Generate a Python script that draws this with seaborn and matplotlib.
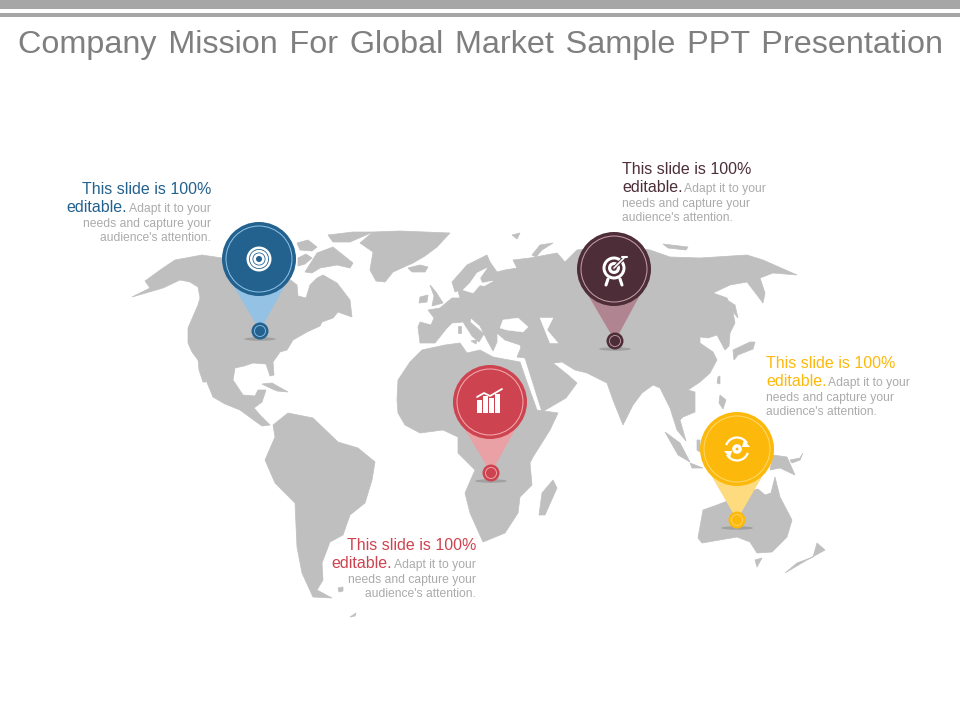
import pandas as pd
import seaborn as sns
import matplotlib.pyplot as plt
from matplotlib.patches import Circle, Ellipse, Polygon, Arc, Rectangle

# the slide title is justified, a hair space widens each gap
TITLE = "Company \u200aMission \u200aFor \u200aGlobal \u200aMarket \u200aSample \u200aPPT \u200aPresentation"

# map outlines in pixels
NORTH_AMERICA = [(132,297),(150,288),(145,281),(163,268),(175,260),(202,255),(222,258),(240,262),(262,268),(280,272),
    (297,285),(298,296),(306,298),(310,285),(317,278),(323,275),(337,283),(350,300),(352,317),(338,312),(333,318),
    (322,322),(320,326),(307,332),(293,340),(287,350),(280,352),(273,362),(274,375),(270,376),(266,364),(253,363),
    (244,366),(235,368),(233,380),(243,395),(255,396),(258,390),(266,390),(262,402),(254,408),(260,415),(270,425),
    (262,426),(255,421),(240,410),(225,404),(213,397),(208,385),(198,360),(192,352),(188,343),(188,328),(198,305),
    (200,298),(198,287),(190,282),(180,280),(163,288)]
BAJA = [(198,358),(202,362),(206,382),(203,382),(199,370)]
CUBA = [(262,384),(272,383),(288,392),(277,391),(268,387)]
GREENLAND = [(373,232),(400,231),(450,233),(437,247),(425,256),(413,263),(393,272),(385,282),(376,281),
    (370,270),(373,252),(360,243)]
ICELAND = [(408,268),(420,265),(428,267),(425,272),(412,272)]
BAFFIN = [(305,272),(317,253),(333,247),(353,263),(350,268),(337,265),(320,268),(312,273)]
ARCTIC_1 = [(297,243),(308,240),(317,247),(312,251),(300,250)]
ARCTIC_2 = [(328,235),(353,232),(373,232),(350,242),(333,242)]
ARCTIC_3 = [(298,258),(306,254),(312,258),(305,264),(298,266)]
EURASIA = [(418,327),(420,343),(435,343),(447,328),(452,323),(463,322),(472,336),(479,342),(482,337),(484,334),(470,322),
    (471,318),(480,326),(487,340),(493,351),(497,342),(497,333),(508,334),(520,332),(530,334),(540,345),(534,352),
    (522,345),(517,357),(525,358),(542,412),(566,398),
    (577,383),(568,375),(553,363),(562,362),(575,370),(587,373),(607,383),(613,400),(623,425),(633,405),(642,393),
    (653,385),(660,388),(670,408),(677,430),(686,441),(680,420),(683,417),(695,412),(695,392),(688,390),(700,382),
    (710,373),(717,360),(713,352),(700,343),(700,337),(708,338),(717,335),(725,350),(729,346),(730,333),(735,323),
    (733,312),(727,298),(713,293),(730,285),(747,282),(757,295),(763,303),(765,293),(760,278),(773,273),(797,275),
    (763,260),(747,255),(700,258),(670,257),(650,250),(620,245),(577,250),(565,262),(557,253),(530,258),(513,260),(517,268),
    (505,270),(497,272),(490,262),(487,255),(467,265),(452,282),(455,292),(462,289),(458,291),(460,298),(452,298),
    (440,308),(428,310),(434,318),(431,325),(420,322)]
CENTRAL_ASIA = [(497,333),(508,318),(540,312),(565,330),(570,360),(553,363),(525,358),(520,345),(505,340)]
AFRICA = [(397,400),(398,380),(410,362),(422,350),(445,345),(460,343),(467,353),(480,350),(493,357),(520,362),
    (528,385),(537,410),(558,413),(550,430),(533,457),(530,463),(532,485),(520,497),(518,513),(505,533),(483,542),
    (470,513),(465,493),(475,470),(458,453),(458,437),(443,430),(420,433),(405,425),(398,413)]
MADAGASCAR = [(553,480),(557,488),(545,515),(539,515),(542,493)]
SOUTH_AMERICA = [(288,413),(313,418),(338,442),(358,448),(375,462),(372,480),(365,503),(350,515),(343,535),(330,542),
    (322,563),(323,580),(317,590),(332,598),(313,597),(302,573),(297,547),(295,503),(275,483),(265,460),(275,437),(273,425)]
FALKLANDS = [(338,588),(343,587),(343,591),(339,592)]
SOUTH_ISLE = [(350,617),(356,613),(355,616)]
AUSTRALIA = [(775,477),(780,497),(792,520),(787,537),(772,552),(757,553),(750,542),(737,537),(702,543),(698,538),
    (703,510),(717,505),(730,500),(743,497),(750,491),(758,489),(765,495),(771,493)]
TASMANIA = [(755,560),(762,558),(757,567)]
NEW_ZEALAND = [(785,573),(807,560),(825,550),(817,543),(813,557),(797,563)]
NEW_GUINEA = [(773,455),(787,457),(795,475),(780,468),(770,470)]
NEW_BRITAIN = [(790,460),(800,458),(803,453),(800,460),(792,463)]
SUMATRA = [(665,432),(680,443),(690,462),(678,455)]
JAVA = [(690,463),(703,468),(692,468)]
SULAWESI = [(697,440),(700,440),(700,452),(697,450)]
PHILIPPINES = [(720,395),(726,400),(723,409),(719,403)]
TAIWAN = [(718,377),(720,376),(720,384),(717,383)]
JAPAN = [(733,350),(750,342),(755,342),(753,349),(738,355),(734,360)]
SAKHALIN = [(727,300),(735,305),(738,318),(733,312)]
BRITAIN = [(430,285),(436,292),(443,303),(432,306),(434,296)]
IRELAND = [(420,297),(428,295),(427,302),(419,303)]
SARDINIA = [(458,326),(461,326),(461,333),(458,333)]
SICILY = [(471,341),(477,340),(476,344)]
SVALBARD = [(512,235),(520,233),(517,239)]
NOVAYA_ZEMLYA = [(532,255),(540,245),(553,243),(542,250),(536,257)]
SIBERIA_ISLE = [(663,244),(688,247),(686,250),(668,248)]
LAND = [NORTH_AMERICA, BAJA, CUBA, GREENLAND, ICELAND, BAFFIN, ARCTIC_1, ARCTIC_2, ARCTIC_3, EURASIA, CENTRAL_ASIA,
    AFRICA, MADAGASCAR, SOUTH_AMERICA, FALKLANDS, SOUTH_ISLE, AUSTRALIA, TASMANIA, NEW_ZEALAND, NEW_GUINEA, NEW_BRITAIN,
    SUMATRA, JAVA, SULAWESI, PHILIPPINES, TAIWAN, JAPAN, SAKHALIN, BRITAIN, IRELAND, SARDINIA, SICILY, SVALBARD,
    NOVAYA_ZEMLYA, SIBERIA_ISLE]

# inland water cut out of the land
BALTIC = [(487,268),(480,278),(482,283),(493,281),(484,286),(480,285),(473,293),(463,290),(470,283),(477,273)]
BLACK_SEA = [(500,328),(503,320),(518,318),(528,327),(523,332),(507,330)]
CASPIAN = [(540,318),(553,318),(547,330),(558,343),(550,343),(546,333)]
WATER = [BALTIC, BLACK_SEA, CASPIAN]

# pins
PIN_NAMES = ["blue", "maroon", "red", "yellow"]
HEAD_X = [259, 614, 490, 737]
HEAD_Y = [259, 269, 402, 449]
TIP_X = [260, 615, 491, 737]
TIP_Y = [331, 341, 473, 520]
PIN_COLORS = ["#23618F", "#4D2E38", "#CE4350", "#FDB90B"]
CONE_COLORS = ["#93C2E4", "#B08591", "#E9A1A6", "#FEDB7F"]
RING_COLORS = ["#8FC4E8", "#C9A0AA", "#F4B0B5", "#FDD96F"]

# callouts
BLOCK_LEFT = [66, 622, 331, 766]
BLOCK_RIGHT = [211, None, 476, None]
BLOCK_TOP = [188, 168, 544, 362]
HEAD_TEXT = "This slide is 100%"
EDIT_TEXT = "editable."
BODY_LINES = ["Adapt it to your", "needs and capture your", "audience's attention."]
TEXT_GRAY = "#ABABAB"

sns.set_theme(style="white")
plt.rcParams["font.family"] = ["Liberation Sans", "DejaVu Sans"]

fig, ax = plt.subplots(figsize=(9.6, 7.2), dpi=100)
ax.set_position([0, 0, 1, 1])
ax.set_xlim(0, 960)
ax.set_ylim(720, 0)
ax.set_axis_off()

# header bands
ax.add_patch(Rectangle((0, 0), 960, 9, color="#A6A6A6", lw=0))
ax.add_patch(Rectangle((0, 13), 960, 4, color="#A6A6A6", lw=0))
ax.text(480, 45, TITLE, ha="center", va="center", fontsize=23.3, color="#7F7F7F")

for shape in LAND:
    ax.add_patch(Polygon(shape, closed=True, facecolor="#BFBFBF", edgecolor="#BFBFBF", lw=0.5, zorder=1))
for shape in WATER:
    ax.add_patch(Polygon(shape, closed=True, facecolor="white", edgecolor="white", lw=0.3, zorder=1.5))


def draw_icon(name, x, y, col):
    # small white glyph inside a pin head
    w = "white"
    if name == "blue":
        for r, c in [(12.5, w), (10, col), (9.2, w), (6.5, col), (5.7, w), (3, col)]:
            ax.add_patch(Circle((x, y), r, color=c, lw=0, zorder=6))
    elif name == "maroon":
        y = y - 1
        for r, c in [(11.5, w), (8.5, col), (6, w), (2.8, col), (1.4, w)]:
            ax.add_patch(Circle((x, y), r, color=c, lw=0, zorder=6))
        ax.plot([x, x + 11], [y, y - 11], color=col, lw=2.5, zorder=7)
        ax.plot([x, x + 10], [y, y - 10], color=w, lw=1.2, zorder=7)
        ax.plot([x + 8, x + 13], [y - 11, y - 11], color=w, lw=1.5, zorder=7)
        ax.plot([x - 6, x - 8], [y + 11, y + 17], color=w, lw=2.2, zorder=7)
        ax.plot([x + 6, x + 8], [y + 11, y + 17], color=w, lw=2.2, zorder=7)
    elif name == "red":
        for dx, top in [(-13, -2), (-7, -6), (-1, -4), (5, -8)]:
            ax.add_patch(Rectangle((x + dx, y + top), 5, 11 - top, color=w, lw=0, zorder=6))
        ax.plot([x - 13, x - 6, x, x + 12], [y - 5, y - 9, y - 6, y - 13], color=w, lw=1.3, zorder=7)
    else:
        ax.add_patch(Arc((x, y), 23, 23, theta1=200, theta2=330, color=w, lw=1.6, zorder=6))
        ax.add_patch(Arc((x, y), 23, 23, theta1=20, theta2=150, color=w, lw=1.6, zorder=6))
        ax.add_patch(Polygon([(x + 7, y - 9), (x + 13, y - 2), (x + 5, y - 2)], color=w, lw=0, zorder=6))
        ax.add_patch(Polygon([(x - 7, y + 9), (x - 13, y + 2), (x - 5, y + 2)], color=w, lw=0, zorder=6))
        ax.add_patch(Circle((x, y), 4.8, color=w, lw=0, zorder=6))
        ax.add_patch(Circle((x, y), 1.4, color=col, lw=0, zorder=7))


pins = pd.DataFrame({"name": PIN_NAMES, "x": HEAD_X, "y": HEAD_Y, "tx": TIP_X, "ty": TIP_Y})
palette = dict(zip(PIN_NAMES, PIN_COLORS))

for i, row in pins.iterrows():
    # cone from head to tip, and the soft shadow below the tip
    ax.add_patch(Polygon([(row.x - 26, row.y + 26), (row.x + 26, row.y + 26), (row.tx, row.ty)],
                         color=CONE_COLORS[i], lw=0, zorder=3))
    ax.add_patch(Ellipse((row.tx, row.ty + 8), 32, 3.5, color="#8C8C8C", alpha=0.6, lw=0, zorder=2.5))

# 74 px across for a head, 16 px for a tip; 1 px is 0.72 pt here
sns.scatterplot(data=pins, x="x", y="y", hue="name", palette=palette, s=(74 * 0.72) ** 2, linewidth=0,
                legend=False, ax=ax, zorder=4)
sns.scatterplot(data=pins, x="tx", y="ty", hue="name", palette=palette, s=(17 * 0.72) ** 2, linewidth=0,
                legend=False, ax=ax, zorder=4)
ax.set_xlim(0, 960)
ax.set_ylim(720, 0)

for i, row in pins.iterrows():
    ax.add_patch(Circle((row.x, row.y), 33, fill=False, edgecolor=RING_COLORS[i], lw=0.7, zorder=5))
    ax.add_patch(Circle((row.tx, row.ty), 5.5, fill=False, edgecolor=RING_COLORS[i], lw=0.6, zorder=5))
    draw_icon(row["name"], row.x, row.y, PIN_COLORS[i])

for left, right, top, col in zip(BLOCK_LEFT, BLOCK_RIGHT, BLOCK_TOP, PIN_COLORS):
    big = dict(fontsize=11.5, color=col, va="center")
    small = dict(fontsize=8.7, color=TEXT_GRAY, va="center")
    if right is None:
        ax.text(left, top + 1, HEAD_TEXT, ha="left", **big)
        ax.text(left, top + 20, EDIT_TEXT, ha="left", **big)
        ax.text(left + 62, top + 21, BODY_LINES[0], ha="left", **small)
        ax.text(left, top + 36, BODY_LINES[1], ha="left", **small)
        ax.text(left, top + 50, BODY_LINES[2], ha="left", **small)
    else:
        ax.text(right, top + 1, HEAD_TEXT, ha="right", **big)
        ax.text(left, top + 20, EDIT_TEXT, ha="left", **big)
        ax.text(right, top + 21, BODY_LINES[0], ha="right", **small)
        ax.text(right, top + 36, BODY_LINES[1], ha="right", **small)
        ax.text(right, top + 50, BODY_LINES[2], ha="right", **small)

fig.savefig("out.png", dpi=100)
plt.close(fig)
